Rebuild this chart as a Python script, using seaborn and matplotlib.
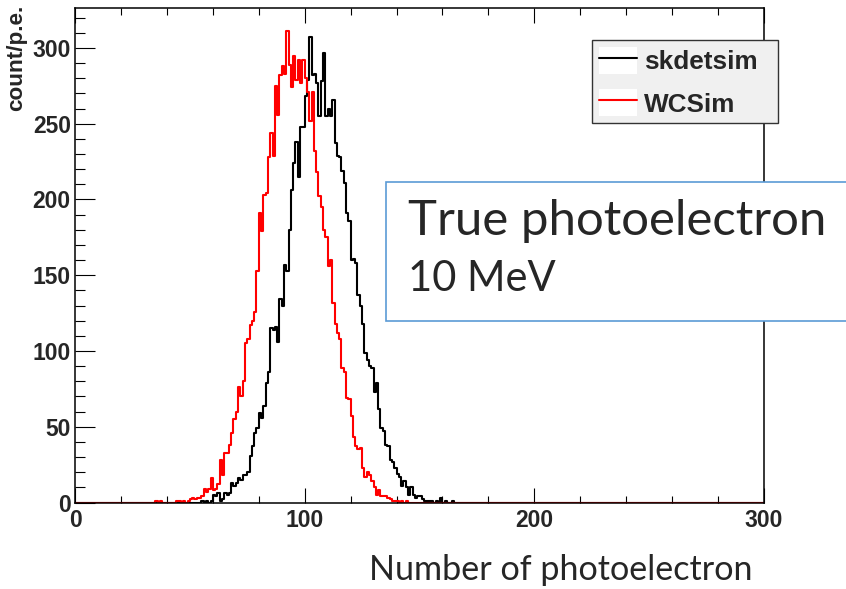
import numpy as np
import pandas as pd
import matplotlib
matplotlib.use("Agg")
import matplotlib.pyplot as plt
from matplotlib.patches import Rectangle
from matplotlib.lines import Line2D
from matplotlib.legend_handler import HandlerTuple
from matplotlib.ticker import MultipleLocator
import seaborn as sns

# ---- histogram contents (1 p.e. bins, counts per bin) ----
series_names = ["skdetsim", "WCSim"]
series_colors = ["black", "red"]

skdetsim_first_bin = 55
skdetsim_counts = [
    1, 0, 1, 0, 1, 5, 4, 6, 1, 2,            # 55-64
    6, 5, 6, 13, 11, 13, 16, 15, 18, 18,     # 65-74
    20, 31, 37, 46, 49, 59, 56, 64, 79, 86,  # 75-84
    115, 114, 116, 106, 134, 130, 157, 153, 180, 206,  # 85-94
    224, 238, 215, 248, 248, 268, 279, 307, 282, 283,  # 95-104
    277, 255, 278, 297, 255, 260, 255, 266, 237, 229,  # 105-114
    228, 219, 211, 191, 186, 160, 161, 158, 137, 130,  # 115-124
    118, 99, 94, 90, 89, 73, 79, 62, 49, 47,   # 125-134
    38, 37, 28, 27, 23, 19, 17, 11, 14, 10,    # 135-144
    5, 10, 5, 3, 4, 4, 2, 1, 1, 1,             # 145-154
    1, 0, 1, 0, 3, 0, 1, 0, 0, 1,              # 155-164
]

wcsim_first_bin = 35
wcsim_counts = [
    1, 0, 1, 0, 0, 0, 0, 0, 0, 1,            # 35-44
    1, 0, 1, 0, 1, 2, 3, 2, 3, 3,            # 45-54
    4, 9, 7, 9, 16, 8, 9, 12, 28, 18,        # 55-64
    33, 33, 38, 46, 55, 60, 76, 70, 80, 105,  # 65-74
    108, 117, 120, 126, 153, 191, 179, 203, 204, 228,  # 75-84
    244, 229, 275, 256, 282, 288, 283, 311, 289, 274,  # 85-94
    295, 279, 292, 277, 292, 280, 271, 252, 271, 232,  # 95-104
    218, 202, 195, 180, 175, 156, 160, 132, 118, 112,  # 105-114
    108, 89, 86, 69, 68, 57, 43, 37, 35, 36,   # 115-124
    23, 17, 20, 18, 14, 10, 5, 8, 4, 4,        # 125-134
    4, 3, 2, 1, 1, 1, 0, 1, 0, 1,              # 135-144
]

x_range = (0, 300)
x_major_ticks = [0, 100, 200, 300]
y_major_step = 50

legend_font = 18.8
tick_font = 16.5

# ---- style ----
sns.set_theme(style="ticks")
plt.rcParams["font.family"] = ["Liberation Sans", "DejaVu Sans"]
plt.rcParams["font.weight"] = "bold"
plt.rcParams["axes.linewidth"] = 1.0

fig = plt.figure(figsize=(8.46, 5.89), dpi=100)
fig.patch.set_facecolor("white")
ax = fig.add_axes([75 / 846, 1 - 502.5 / 589, 689 / 846, 494.5 / 589])
ax.set_facecolor("white")

centers = np.arange(x_range[0], x_range[1]) + 0.5


def full_bins(first, counts):
    arr = np.zeros(len(centers))
    arr[first:first + len(counts)] = counts
    return arr


frames = []
for name, first, counts in [("skdetsim", skdetsim_first_bin, skdetsim_counts),
                            ("WCSim", wcsim_first_bin, wcsim_counts)]:
    frames.append(pd.DataFrame({"pe": centers, "count": full_bins(first, counts), "sim": name}))
df = pd.concat(frames, ignore_index=True)

# black first, red drawn on top; both sit just under the frame lines
for i, (name, color) in enumerate(zip(series_names, series_colors)):
    sub = df[df["sim"] == name]
    sns.histplot(data=sub, x="pe", weights="count", binwidth=1, binrange=x_range,
                 element="step", fill=False, color=color, linewidth=1.5, ax=ax,
                 zorder=2.2 + 0.1 * i)

ax.set_xlim(*x_range)
ax.set_ylim(0, 326.4)
ax.set_xticks(x_major_ticks)
ax.xaxis.set_minor_locator(MultipleLocator(20))
ax.yaxis.set_major_locator(MultipleLocator(y_major_step))
ax.yaxis.set_minor_locator(MultipleLocator(10))

for s in ["left", "right", "top", "bottom"]:
    ax.spines[s].set_visible(True)
    ax.spines[s].set_color("black")
    ax.spines[s].set_linewidth(1.1)

ax.tick_params(axis="x", which="both", direction="in", top=True, bottom=True,
               color="black", width=0.8, labelsize=tick_font, pad=4.5)
ax.tick_params(axis="x", which="major", length=10.8)
ax.tick_params(axis="x", which="minor", length=5)
ax.tick_params(axis="y", which="both", direction="in", left=True, right=False,
               color="black", width=0.8, labelsize=tick_font, pad=3.0)
ax.tick_params(axis="y", which="major", length=14.4)
ax.tick_params(axis="y", which="minor", length=7.2)
for lab in ax.get_xticklabels() + ax.get_yticklabels():
    lab.set_fontweight("bold")

ax.set_ylabel("count/p.e.", loc="top", fontsize=16.2, fontweight="bold")
ax.yaxis.set_label_coords(-0.0697, 1.006)

ax.set_xlabel("Number of photoelectron", fontsize=24.6, fontweight="normal",
              family=["Lato", "DejaVu Sans"], va="baseline")
ax.xaxis.set_label_coords((560.5 - 75) / 689, (502.5 - 580) / 494.5)

# legend with white swatch behind each line sample
white = Rectangle((0, 0), 1, 1, facecolor="white", edgecolor="none")
handles = [(white, Line2D([], [], color=c, lw=1.5)) for c in series_colors]
leg = ax.legend(handles, series_names,
                handler_map={tuple: HandlerTuple(ndivide=1, pad=0)},
                loc="upper left", bbox_to_anchor=(0.7504, 0.7492, 0.2699, 0.1861),
                mode="expand", borderaxespad=0, fontsize=legend_font,
                handlelength=1.46, handleheight=1.23, handletextpad=0.27,
                borderpad=0.25, labelspacing=0.58, fancybox=False,
                framealpha=1, facecolor="#f0f0f0", edgecolor="#333333")
leg.get_frame().set_linewidth(1.0)
for t in leg.get_texts():
    t.set_fontweight("bold")

# annotation box
box = Rectangle((386 / 846, 1 - 321 / 589), 0.7, 139 / 589, transform=fig.transFigure,
                facecolor="white", edgecolor="#5b9bd5", linewidth=1.2, zorder=5)
fig.add_artist(box)
fig.text(408 / 846, 1 - 235 / 589, "True photoelectron", fontsize=35.4, fontweight="normal",
         family=["Lato", "DejaVu Sans"], va="baseline", ha="left", zorder=6)
fig.text(408 / 846, 1 - 291 / 589, "10 MeV", fontsize=30, fontweight="normal",
         family=["Lato", "DejaVu Sans"], va="baseline", ha="left", zorder=6)

fig.savefig("out.png", dpi=100, facecolor="white")
